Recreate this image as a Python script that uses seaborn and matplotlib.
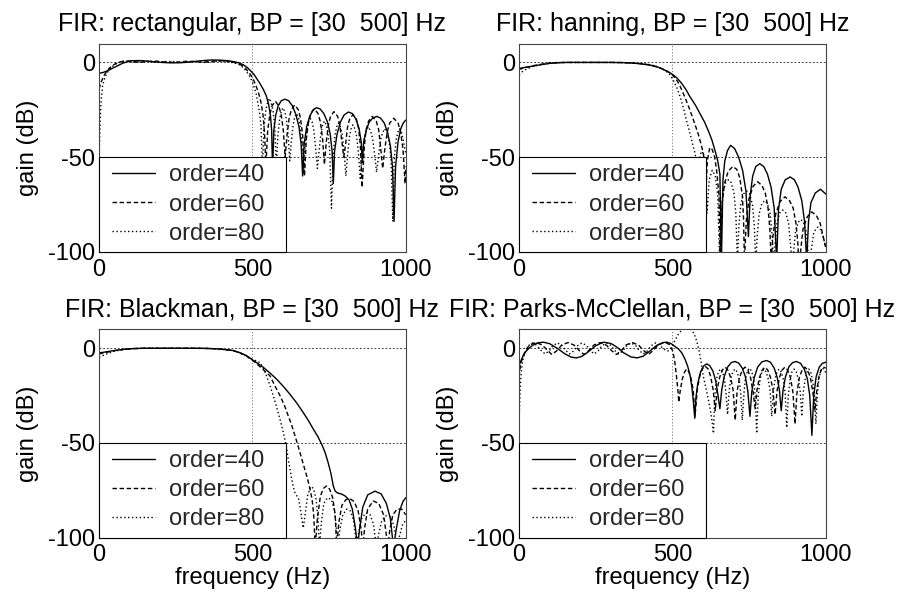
import matplotlib
matplotlib.use("Agg")
import matplotlib.pyplot as plt
import pandas as pd
import seaborn as sns
from matplotlib.lines import Line2D
from matplotlib.legend_handler import HandlerLine2D

# ---------------------------------------------------------------------------
# Magnitude responses (frequency in Hz, gain in dB) of the band-pass FIR
# filters, BP = [30 500] Hz, fs = 2000 Hz, for three filter orders.
# ---------------------------------------------------------------------------

orders = [40, 60, 80]
order_labels = ["order=40", "order=60", "order=80"]
titles = [
    "FIR: rectangular, BP = [30  500] Hz",
    "FIR: hanning, BP = [30  500] Hz",
    "FIR: Blackman, BP = [30  500] Hz",
    "FIR: Parks-McClellan, BP = [30  500] Hz",
]
x_ticks = [0, 500, 1000]
y_ticks = [-100, -50, 0]

# --- rectangular window ----------------------------------------------------
rect_40 = [
    (0, -5.8), (15, -5.2), (30, -4.3), (45, -3), (60, -1.8), (75, -0.6), (90, 0.3),
    (107, 0.9), (130, 1.0), (150, 0.8), (175, 0.4), (204, 0.0), (230, -0.2), (259, -0.2),
    (290, 0.1), (313, 0.5), (340, 1.0), (367, 1.3), (395, 1.2), (420, 0.9), (440, 0.4),
    (455, -0.2), (470, -1.2), (482, -2.5), (492, -4), (505, -6.3), (515, -8.7), (525, -11.2),
    (535, -14), (545, -17.5), (553, -22), (559, -28), (563, -36), (566, -58),
    (570, -36), (576, -28), (584, -23), (594, -20.3), (606, -19.4), (618, -20.2), (630, -22.8),
    (642, -27.5), (652, -34), (659, -43), (664, -60),
    (669, -43), (677, -34), (687, -28.5), (697, -25.3), (709, -23.9), (721, -24.6), (733, -27),
    (745, -31.5), (754, -38), (760, -47), (764, -64),
    (768, -47), (776, -38), (787, -31.5), (799, -27.8), (813, -26.2), (826, -27), (838, -30),
    (848, -35), (855, -42), (859, -53),
    (863, -42), (871, -36), (881, -31.5), (892, -29.5), (905, -28.5), (918, -29.4), (930, -32),
    (941, -37), (950, -44), (957, -55), (962, -84),
    (967, -55), (975, -42), (984, -35), (992, -32), (1000, -30.5),
]
rect_60 = [
    (0, -14), (8, -10), (16, -7), (25, -4.8), (35, -2.8), (50, -1), (65, 0.1), (80, 0.7),
    (95, 0.8), (115, 0.4), (135, 0.1), (160, 0.5), (185, 0.7), (210, 0.3), (235, 0),
    (260, 0.2), (285, 0.6), (310, 0.5), (335, 0.1), (360, 0.4), (385, 0.8), (410, 0.8),
    (430, 0.5), (450, -0.3), (465, -1.5), (478, -3.2), (490, -5.5), (500, -8), (510, -11.5),
    (520, -16), (528, -21), (535, -28), (540, -38), (544, -55),
    (550, -36), (557, -27.5), (564, -23), (575, -20.5), (586, -23), (594, -27.5), (601, -36), (607, -50),
    (613, -38.5), (620, -29.5), (627, -25), (638, -22.5), (650, -25), (657, -29.5), (664, -38.5), (670, -60),
    (676, -40.5), (683, -31.5), (691, -27), (702, -24.5), (714, -27), (722, -31.5), (729, -40.5), (735, -54),
    (741, -42), (748, -33), (755, -28.5), (766, -26), (778, -28.5), (785, -33), (792, -42), (798, -50),
    (804, -43.5), (810, -34.5), (817, -30), (828, -27.5), (839, -30), (846, -34.5), (852, -43.5), (858, -66),
    (865, -44.5), (871, -35.5), (879, -31), (891, -28.5), (904, -31), (912, -35.5), (918, -44.5), (925, -56),
    (932, -45.5), (940, -36.5), (948, -32), (961, -29.5), (975, -32), (983, -36.5), (991, -45.5), (998, -64),
    (1000, -55),
]
rect_80 = [
    (0, -52), (2, -40), (4, -30), (7, -20), (12, -12), (20, -7.6), (30, -4.5), (42, -2.3),
    (55, -0.8), (70, 0.2), (85, 0.6), (100, 0.3), (120, 0), (140, 0.5), (160, 0.6), (180, 0.1),
    (200, 0), (220, 0.5), (240, 0.5), (260, 0), (280, 0), (300, 0.5), (320, 0.5), (340, 0),
    (360, 0.1), (380, 0.6), (400, 0.6), (420, 0.2), (440, -0.2), (455, -1), (468, -2.5),
    (480, -4.6), (492, -7.5), (503, -11.5), (513, -17), (522, -25), (528, -33), (533, -55),
    (538, -34), (544, -25), (550, -21), (556, -19), (561, -21), (567, -25), (573, -34), (578, -56),
    (583, -39), (589, -30), (594, -26), (600, -24), (606, -26), (611, -30), (617, -39), (622, -52),
    (627, -42), (633, -33), (638, -29), (644, -27), (650, -29), (655, -33), (661, -42), (666, -59),
    (672, -44.5), (678, -35.5), (683, -31.5), (689, -29.5), (695, -31.5), (700, -35.5), (706, -44.5), (712, -56),
    (718, -46), (724, -37), (729, -33), (735, -31), (741, -33), (746, -37), (752, -46), (758, -77),
    (764, -47), (770, -38), (775, -34), (781, -32), (787, -34), (793, -38), (799, -47), (805, -60),
    (811, -48), (817, -39), (822, -35), (828, -33), (834, -35), (840, -39), (846, -48), (852, -62),
    (858, -49), (865, -40), (872, -36), (878, -34), (885, -36), (892, -40), (899, -49), (905, -58),
    (911, -50), (918, -41), (925, -37), (931, -35), (938, -37), (945, -41), (952, -50), (958, -84),
    (963, -50), (969, -41), (974, -37), (980, -35), (986, -37), (992, -41), (1000, -48),
]

# --- Hanning window ----------------------------------------------------------
han_40 = [
    (0, -3.2), (20, -2.6), (47, -1.9), (75, -1.1), (101, -0.5), (130, -0.15), (155, 0),
    (200, 0), (250, 0), (300, 0), (340, -0.1), (373, -0.4), (400, -0.8), (427, -1.4),
    (455, -2.6), (482, -4.6), (498, -6), (515, -8.2), (530, -11), (545, -14.5), (557, -18),
    (575, -22.5), (590, -27), (605, -31.5), (617, -36), (629, -41), (639, -46.5), (648, -52),
    (655, -59), (660, -105),
    (665, -62), (671, -52), (680, -46.5), (690, -43.8), (703, -45.5), (716, -50), (729, -57),
    (740, -68), (748, -92),
    (754, -70), (762, -60), (772, -55), (785, -53.5), (798, -55), (810, -59), (822, -66),
    (832, -77), (840, -105),
    (846, -78), (855, -67), (868, -62), (884, -60.5), (898, -62), (910, -66), (922, -73),
    (931, -84), (938, -105),
    (944, -84), (952, -74), (966, -69), (983, -67), (1000, -69.5),
]
han_60 = [
    (0, -3.7), (20, -2.8), (47, -1.7), (75, -0.9), (101, -0.3), (130, -0.05), (155, 0),
    (200, 0), (250, 0), (300, 0), (340, -0.1), (373, -0.3), (400, -0.7), (427, -1.3),
    (455, -2.5), (482, -4.5), (498, -6.2), (515, -9.5), (525, -12.5), (540, -18), (557, -25),
    (570, -31), (584, -37.6), (595, -44), (601, -48), (606, -55), (609, -70),
    (614, -52), (622, -45), (630, -46), (638, -50), (645, -58), (652, -70), (656, -105),
    (662, -75), (670, -64), (682, -57.5), (697, -55), (710, -56.5), (720, -61), (728, -70),
    (732, -82), (735, -105),
    (741, -84), (750, -72), (763, -65.5), (778, -63), (792, -65), (803, -69), (812, -77),
    (818, -88), (822, -105),
    (828, -92), (837, -80), (851, -73.5), (867, -71), (882, -73), (894, -77), (903, -85),
    (909, -95), (912, -105),
    (918, -100), (926, -88), (940, -81.5), (955, -79), (970, -81), (982, -85), (992, -92),
    (1000, -98),
]
han_80 = [
    (0, -6.5), (10, -5), (25, -3.5), (47, -2), (75, -1), (101, -0.4), (130, -0.1), (155, 0),
    (200, 0), (250, 0), (300, 0), (340, -0.1), (373, -0.3), (400, -0.6), (427, -1.2),
    (455, -2.4), (475, -4), (490, -6), (503, -9.4), (515, -13.5), (525, -18), (536, -24),
    (546, -30.6), (555, -36), (563, -41), (569, -45), (574, -48), (579, -54), (583, -66),
    (587, -53), (594, -47), (600, -48), (606, -54), (610, -66), (613, -80),
    (620, -62), (630, -57), (640, -60), (648, -70), (654, -105),
    (659, -80), (665, -69), (674, -63.5), (683, -62), (692, -63.5), (701, -69), (707, -80), (712, -105),
    (717, -86), (723, -75), (732, -69.5), (742, -68), (752, -69.5), (761, -75), (767, -86), (772, -105),
    (777, -91), (783, -80), (792, -74.5), (801, -73), (810, -74.5), (819, -80), (825, -91), (830, -105),
    (835, -96), (841, -85), (850, -79.5), (860, -78), (870, -79.5), (879, -85), (885, -96), (890, -105),
    (895, -101), (901, -90), (910, -84.5), (919, -83), (928, -84.5), (937, -90), (943, -101), (948, -105),
    (954, -98), (961, -90), (968, -88), (975, -87), (984, -88.5), (993, -93), (1000, -97),
]

# --- Blackman window ---------------------------------------------------------
black_40 = [
    (0, -2.5), (20, -2), (50, -1.2), (80, -0.6), (110, -0.2), (150, 0), (200, 0), (250, 0),
    (300, 0), (350, -0.1), (380, -0.3), (410, -0.7), (438, -1.2), (460, -2.4), (480, -3.8),
    (492, -5.2), (510, -7.2), (535, -10), (557, -13), (579, -16.3), (600, -20), (622, -24.2),
    (645, -29), (666, -34), (683, -38.3), (699, -42.8), (713, -46.5), (726, -50.7), (737, -55),
    (747, -60.4), (756, -66), (764, -72.8), (770, -75.5), (778, -76.5), (790, -77),
    (802, -78), (815, -80), (826, -85), (836, -95), (843, -105),
    (850, -95), (860, -84), (876, -77.5), (900, -75.5), (920, -77), (937, -82), (950, -90),
    (960, -105), (970, -95), (980, -86), (991, -81), (1000, -79),
]
black_60 = [
    (0, -3), (20, -2.3), (50, -1.3), (80, -0.6), (110, -0.2), (150, 0), (200, 0), (250, 0),
    (300, 0), (350, -0.1), (380, -0.3), (410, -0.7), (438, -1.3), (460, -2.5), (480, -4),
    (492, -5.4), (510, -7.6), (525, -9.8), (540, -12), (557, -14.5), (574, -20), (590, -25),
    (604, -30), (617, -35.7), (628, -40.5), (639, -46.3), (648, -51), (655, -55), (663, -59.5),
    (671, -64), (680, -69), (688, -74.6), (695, -80), (700, -88), (705, -105),
    (712, -90), (722, -78), (732, -74), (742, -72.8), (752, -74.5), (762, -79), (770, -88), (775, -105),
    (782, -92), (792, -83), (805, -80), (818, -79.5), (832, -81), (845, -86), (855, -96), (860, -105),
    (866, -95), (876, -85), (894, -80.7), (912, -82), (928, -88), (938, -100), (942, -105),
    (948, -96), (958, -88), (972, -85), (987, -85), (1000, -88),
]
black_80 = [
    (0, -4.8), (20, -3.3), (50, -1.6), (80, -0.7), (110, -0.2), (150, 0), (200, 0), (250, 0),
    (300, 0), (350, -0.1), (380, -0.3), (410, -0.7), (438, -1.3), (460, -2.5), (480, -4.2),
    (492, -5.4), (510, -6.5), (525, -7.6), (536, -10.5), (546, -14.5), (557, -19.5), (568, -25),
    (579, -31), (590, -37.5), (598, -42.5), (606, -48), (612, -53), (617, -58.7), (623, -64),
    (628, -69), (634, -73.5), (639, -76.3), (645, -78), (650, -79), (656, -84), (661, -90),
    (666, -95), (672, -88), (680, -78), (688, -74), (693, -73), (700, -74.5), (708, -80),
    (714, -90), (719, -105),
    (725, -92), (733, -82), (745, -79), (758, -80), (768, -86), (775, -97), (779, -105),
    (785, -96), (795, -88), (808, -85), (820, -86), (830, -91), (837, -100), (840, -105),
    (846, -98), (856, -90), (870, -87), (884, -88), (895, -93), (902, -102), (905, -105),
    (911, -99), (922, -91), (936, -88.5), (950, -89), (962, -94), (970, -102), (974, -105),
    (980, -99), (990, -93), (1000, -91),
]

# --- Parks-McClellan (equiripple) ----------------------------------------------
pm_40 = [
    (0, -9.2), (8, -6), (14, -3.9), (22, -1.8), (30, -0.4), (45, 1.6), (60, 2.8), (79, 3.2),
    (100, 2.4), (128, -0.4), (150, -3), (170, -4.7), (188, -5.1), (205, -4.3), (225, -2),
    (250, 1.3), (275, 3.2), (300, 2.5), (320, 0.5), (340, -2.3), (365, -4.6), (385, -5.1),
    (405, -4.2), (425, -1.7), (450, 1.6), (470, 3), (482, 3.2), (495, 2.5), (508, 1),
    (520, -0.4), (531, -2.5), (541, -5.7), (550, -9.5), (558, -14.5), (564, -21), (569, -29),
    (573, -37),
    (577, -26), (583, -18.5), (592, -12.5), (602, -9.4), (612, -8.3), (622, -9.2), (632, -12),
    (641, -17), (648, -24), (655, -32),
    (661, -22), (669, -15), (680, -10), (692, -7.6), (704, -7), (716, -7.8), (728, -10.5),
    (738, -15), (746, -22.5), (753, -36),
    (759, -23), (767, -15.5), (778, -10), (792, -7.2), (807, -6.5), (820, -7.4), (832, -10.5),
    (842, -15.5), (849, -22), (855, -33),
    (861, -22), (869, -15), (880, -9.8), (892, -7.6), (905, -7), (918, -8), (930, -11),
    (940, -16), (948, -25), (955, -46),
    (961, -25), (969, -15), (979, -10), (989, -8), (1000, -7.4),
]
pm_60 = [
    (0, -15), (5, -9), (12, -4.5), (22, -1), (35, 1.8), (55, 3), (75, 1.8), (92, -1),
    (107, -3.3), (122, -1.5), (140, 1.8), (160, 3), (180, 1.6), (197, -1.3), (212, -3.3),
    (228, -1.2), (245, 1.8), (265, 3), (285, 1.6), (302, -1.3), (318, -3.3), (334, -1.2),
    (350, 1.8), (370, 3), (390, 1.6), (407, -1.3), (422, -3.3), (437, -1.2), (455, 1.8),
    (475, 3.2), (490, 2), (500, -1), (507, -6), (513, -14), (518, -22), (521, -28.5),
    (526, -22), (533, -16), (540, -12.5), (547, -11), (554, -12.5), (561, -16), (568, -22), (574, -36),
    (581, -22), (589, -15), (597, -11), (607, -9.5), (617, -11), (625, -15), (633, -22), (640, -33),
    (646, -22), (654, -15.5), (663, -11.5), (672, -10), (681, -11.5), (690, -15.5), (698, -22), (705, -38),
    (711, -23), (719, -15.5), (728, -11.5), (737, -10), (746, -11.5), (755, -15.5), (763, -23), (770, -32),
    (776, -22), (784, -15.5), (793, -11.5), (802, -10), (811, -11.5), (820, -15.5), (828, -22), (835, -35),
    (841, -23), (849, -15.5), (858, -11.5), (867, -10), (876, -11.5), (885, -15.5), (893, -23), (900, -40),
    (906, -24), (914, -15.5), (923, -11.5), (932, -10), (941, -11.5), (950, -15.5), (958, -23), (965, -33),
    (971, -22), (978, -15), (985, -11.5), (992, -10), (1000, -10.5),
]
pm_80 = [
    (0, -41), (2, -30), (4, -21), (8, -11), (14, -5), (22, -1.5), (32, 1.5), (45, 2.8),
    (58, 1.5), (72, -1.2), (85, -3), (98, -1.5), (110, 1.2), (125, 2.8), (140, 1.5),
    (152, -1.2), (165, -3), (178, -1.5), (190, 1.2), (205, 2.8), (220, 1.5), (232, -1.2),
    (245, -3), (258, -1.5), (270, 1.2), (285, 2.8), (300, 1.5), (312, -1.2), (325, -3),
    (338, -1.5), (350, 1.2), (365, 2.8), (380, 1.5), (392, -1.2), (405, -3), (418, -1.5),
    (430, 1.2), (445, 2.8), (460, 1.5), (472, -0.5), (485, -1.5), (497, 0), (508, 4),
    (520, 7.5), (532, 9.8), (545, 10.6), (558, 10.3), (570, 8), (580, 3.5), (588, -2),
    (594, -7.4), (600, -14), (608, -20), (616, -26), (623, -32), (629, -38), (634, -45),
    (639, -24), (644, -16.5), (650, -12.5), (657, -11), (664, -12.5), (670, -16.5), (675, -24), (680, -35),
    (685, -23), (690, -16.5), (697, -12.5), (704, -11), (711, -12.5), (718, -16.5), (723, -24), (728, -38),
    (733, -25), (738, -16), (745, -12), (751, -10.5), (758, -12), (765, -16), (770, -25), (775, -45),
    (780, -25), (786, -16.5), (792, -12.5), (799, -11), (806, -12.5), (813, -16.5), (819, -23), (824, -36),
    (829, -23), (835, -16.5), (841, -12.5), (848, -11), (855, -12.5), (862, -16.5), (868, -24), (873, -42),
    (878, -25), (884, -16.5), (890, -12.5), (897, -11), (904, -12.5), (911, -16.5), (917, -23), (922, -36),
    (927, -23), (933, -16.5), (939, -12.5), (945, -11), (951, -12.5), (957, -16.5), (963, -24), (968, -40),
    (973, -24), (978, -16), (984, -12), (990, -10.5), (996, -11.5), (1000, -13),
]

panel_curves = [
    [rect_40, rect_60, rect_80],
    [han_40, han_60, han_80],
    [black_40, black_60, black_80],
    [pm_40, pm_60, pm_80],
]

# ---------------------------------------------------------------------------
sns.set_theme(style="white")
plt.rcParams["font.family"] = ["Liberation Sans", "DejaVu Sans"]
plt.rcParams["axes.unicode_minus"] = False
FS = 17
TITLE_FS = 18

LW = 1.0
line_styles = ["-", (0, (3.2, 1.9)), (0, (1.0, 1.8))]

fig = plt.figure(figsize=(9.04, 5.95), dpi=100)

W, H = 904.0, 595.0
ax_w, ax_h = 306.7, 208.2
ax_lefts = [99, 519, 99, 519]
ax_tops = [43.5, 43.5, 329.3, 329.3]

for i, curves in enumerate(panel_curves):
    left, top = ax_lefts[i], ax_tops[i]
    ax = fig.add_axes([left / W, (H - top - ax_h) / H, ax_w / W, ax_h / H])

    for pts, order, ls in zip(curves, orders, line_styles):
        df = pd.DataFrame(pts, columns=["freq", "gain"])
        sns.lineplot(data=df, x="freq", y="gain", ax=ax, color="black",
                     linewidth=LW, linestyle=ls, sort=False, estimator=None)

    ax.set_xlim(0, 1000)
    ax.set_ylim(-100, 10)
    ax.set_xticks(x_ticks)
    ax.set_yticks(y_ticks)
    ax.set_xticklabels([str(v) for v in x_ticks])
    ax.set_yticklabels([str(v) for v in y_ticks])
    ax.tick_params(axis="both", direction="in", length=4, width=0.6,
                   color="#333333", labelsize=FS, labelcolor="black")
    ax.tick_params(axis="x", pad=5)
    ax.tick_params(axis="y", pad=3)

    # MATLAB-style dotted grid at the tick positions
    ax.yaxis.grid(True, linestyle=(0, (2.2, 2.2)), color="#222222", linewidth=0.6)
    ax.xaxis.grid(True, linestyle=(0, (1.2, 2.0)), color="#777777", linewidth=0.7)
    ax.set_axisbelow(True)

    for sp in ax.spines.values():
        sp.set_visible(True)
        sp.set_color("#444444")
        sp.set_linewidth(0.8)

    ax.set_title(titles[i], fontsize=TITLE_FS, pad=9.0, color="black")
    ax.set_ylabel("gain (dB)", fontsize=FS, va="center", color="black")
    ax.yaxis.set_label_coords(-0.232, 0.5)
    if i >= 2:
        ax.set_xlabel("frequency (Hz)", fontsize=FS, va="center", color="black")
        ax.xaxis.set_label_coords(0.5, -0.196)
    else:
        ax.set_xlabel("")

    handles = [Line2D([0], [0], color="black", linewidth=LW, linestyle=ls)
               for ls in line_styles]
    leg = ax.legend(handles, order_labels, loc="lower left",
                    bbox_to_anchor=(0, 0, 0.609, 0.45), mode="expand",
                    borderaxespad=0, frameon=True, fancybox=False, framealpha=1,
                    edgecolor="black", fontsize=FS, handlelength=2.06,
                    handletextpad=0.6, labelspacing=0.3, borderpad=0.3,
                    handler_map={Line2D: HandlerLine2D(xpad=0.24)})
    leg.get_frame().set_linewidth(0.8)
    leg.set_zorder(10)

fig.savefig("out.png", dpi=100, facecolor="white")
